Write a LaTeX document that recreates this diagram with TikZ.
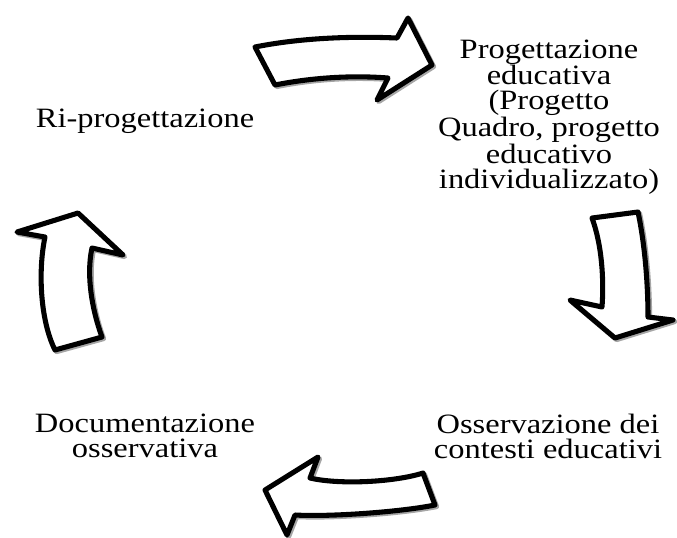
\documentclass[tikz,border=0pt]{standalone}
\usepackage{fontspec}
\setmainfont{Liberation Serif}[FakeStretch=1.16]
\usepackage{tikz}

\tikzset{every picture/.style={line width=0.75pt}}
\tikzset{
  cyclearrow/.style={draw=black, fill=white, line width=3.8pt, line join=round,
    preaction={draw=black!35, line width=3.8pt, line join=round, transform canvas={shift={(1.2pt,-1.2pt)}}}},
  phase/.style={align=center, inner sep=0pt, font=\fontsize{21}{18.8}\selectfont}
}

\begin{document}
\begin{tikzpicture}[x=0.75pt,y=0.75pt,yscale=-1,xscale=1]
	\useasboundingbox (0,0) rectangle (677,537);

	%Shape: Right Arrow [id:top]
	\draw [cyclearrow] (255,47) .. controls (300,38) and (350,36) .. (397,38) -- (408,18) -- (432,65) -- (377,100) -- (388,78) .. controls (350,75) and (310,78) .. (275,85) -- cycle ;
	%Shape: Down Arrow [id:right]
	\draw [cyclearrow] (592,218) -- (638,212) .. controls (645,245) and (648,285) .. (648,317) -- (673,320) -- (615,338) -- (570,300) -- (602,307) .. controls (604,280) and (602,245) .. (592,218) -- cycle ;
	%Shape: Left Arrow [id:bottom]
	\draw [cyclearrow] (423,473) -- (435,505) .. controls (400,512) and (330,517) .. (295,515) -- (287,535) -- (265,490) -- (318,457) -- (310,478) .. controls (340,485) and (395,482) .. (423,473) -- cycle ;
	%Shape: Up Arrow [id:left]
	\draw [cyclearrow] (55,350) -- (102,337) .. controls (92,310) and (86,275) .. (92,248) -- (123,255) -- (78,213) -- (17,232) -- (45,237) .. controls (38,270) and (40,320) .. (55,350) -- cycle ;

	% Text Node
	\node [phase] (progettazione) at (549,117) {Progettazione\\educativa\\(Progetto\\Quadro, progetto\\educativo\\individualizzato)};
	% Text Node
	\node [phase] (osservazione) at (548,436) {Osservazione dei\\contesti educativi};
	% Text Node
	\node [phase] (documentazione) at (145,436) {Documentazione\\osservativa};
	% Text Node
	\node [phase] (riprogettazione) at (145,121) {Ri-progettazione};

\end{tikzpicture}
\end{document}
